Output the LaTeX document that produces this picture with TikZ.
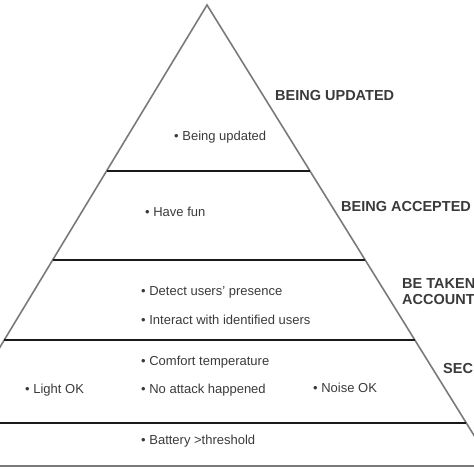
\documentclass[tikz,border=0pt]{standalone}
\usepackage{fontspec}
\setmainfont{Liberation Sans}
\usepackage{xcolor}
\usepackage{tikz}
\usetikzlibrary{calc}

\definecolor{edgegrey}{HTML}{7A7A7A}
\definecolor{bargrey}{HTML}{1A1A1A}
\definecolor{txtgrey}{HTML}{3A3A3A}

\begin{document}
\begin{tikzpicture}[x=1pt, y=-1pt,
    edge/.style={draw=edgegrey, line width=1.6pt},
    bar/.style={draw=bargrey, line width=2pt},
    item/.style={anchor=west, inner sep=0pt, text=txtgrey, font=\fontsize{13}{15}\selectfont},
    level/.style={anchor=west, inner sep=0pt, align=left, text=txtgrey, font=\fontsize{14.5}{16}\selectfont\bfseries}]
          \useasboundingbox (0,0) rectangle (474,474);
          \clip (0,0) rectangle (474,474);

          \coordinate (top) at (207,5);
          \coordinate (bl) at (-72,466);
          \coordinate (br) at (493,466);

          % pyramid outline
          \draw[edge] (bl) -- (top) -- (br);
          \draw[edge] (bl) -- (br);

          % level separators
          \draw[bar] ($(top)!0.360!(bl)$) -- ($(top)!0.360!(br)$);
          \draw[bar] ($(top)!0.553!(bl)$) -- ($(top)!0.553!(br)$);
          \draw[bar] ($(top)!0.727!(bl)$) -- ($(top)!0.727!(br)$);
          \draw[bar] ($(top)!0.907!(bl)$) -- ($(top)!0.907!(br)$);

          % level names
          \node[level] (updated) at (275,96) {BEING UPDATED};
          \node[level] (accepted) at (341,207) {BEING ACCEPTED};
          \node[level] (account) at (402,292) {BE TAKEN\\ACCOUNT};
          \node[level] (sec) at (443,369) {SEC};

          % needs
          \node[item] (upd) at (174,137) {\textbullet\ Being updated};
          \node[item] (fun) at (145,212) {\textbullet\ Have fun};
          \node[item] (detect) at (141,292) {\textbullet\ Detect users' presence};
          \node[item] (interact) at (141,320) {\textbullet\ Interact with identified users};
          \node[item] (comfort) at (141,362) {\textbullet\ Comfort temperature};
          \node[item] (light) at (25,390) {\textbullet\ Light OK};
          \node[item] (attack) at (141,390) {\textbullet\ No attack happened};
          \node[item] (noise) at (313,388) {\textbullet\ Noise OK};
          \node[item] (battery) at (141,441) {\textbullet\ Battery >threshold};
        \end{tikzpicture}
\end{document}
